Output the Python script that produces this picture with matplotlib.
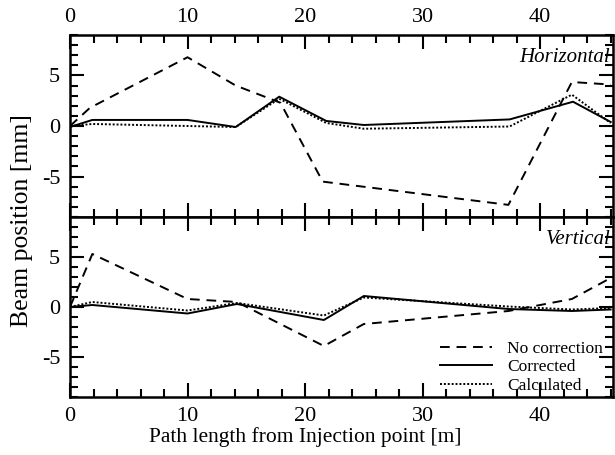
import matplotlib
matplotlib.use("Agg")
import matplotlib.pyplot as plt
from matplotlib.ticker import MultipleLocator

plt.rcParams['font.family'] = ['Liberation Serif', 'DejaVu Serif']
plt.rcParams['axes.unicode_minus'] = False

# Horizontal plane
h_nocorr_x = [0, 1.7, 10, 14.1, 17.9, 21.5, 37.3, 42.7, 46]
h_nocorr_y = [0, 1.8, 6.8, 4.0, 2.3, -5.5, -7.8, 4.35, 4.1]
h_corr_x = [0, 1.9, 10, 14.1, 17.8, 21.8, 25.0, 37.4, 42.8, 46]
h_corr_y = [-0.1, 0.6, 0.6, -0.1, 2.9, 0.5, 0.1, 0.65, 2.4, 0.4]
h_calc_x = [0, 1.9, 10, 14.1, 17.8, 21.8, 25.0, 37.4, 42.7, 46]
h_calc_y = [0, 0.2, 0.0, -0.1, 2.7, 0.3, -0.27, -0.05, 3.1, 0.3]

# Vertical plane
v_nocorr_x = [0, 1.9, 10, 14.2, 21.6, 25.0, 37.3, 42.7, 46]
v_nocorr_y = [0, 5.3, 0.8, 0.5, -3.9, -1.7, -0.4, 0.8, 2.9]
v_corr_x = [0, 1.9, 10, 14.2, 21.6, 25.0, 37.3, 42.7, 46]
v_corr_y = [0, 0.2, -0.65, 0.3, -1.3, 1.1, -0.2, -0.4, -0.25]
v_calc_x = [0, 1.9, 10, 14.2, 21.6, 25.0, 37.3, 42.7, 46]
v_calc_y = [0, 0.5, -0.35, 0.4, -0.85, 0.95, 0.05, -0.25, -0.1]

legend_labels = ["No correction", "Corrected", "Calculated"]

fig = plt.figure(figsize=(6.15, 4.55), dpi=100)
left, right = 70/615, 613/615
top, mid, bot = 1-35/455, 1-217/455, 1-397/455
ax1 = fig.add_axes([left, mid, right-left, top-mid])
ax2 = fig.add_axes([left, bot, right-left, mid-bot])

lw = 1.4
for ax, (nx, ny, cx, cy, kx, ky) in zip(
        [ax1, ax2],
        [(h_nocorr_x, h_nocorr_y, h_corr_x, h_corr_y, h_calc_x, h_calc_y),
         (v_nocorr_x, v_nocorr_y, v_corr_x, v_corr_y, v_calc_x, v_calc_y)]):
    ax.plot(nx, ny, color='black', lw=lw, linestyle=(0, (5, 3.5)), label=legend_labels[0])
    ax.plot(cx, cy, color='black', lw=lw, linestyle='-', label=legend_labels[1])
    ax.plot(kx, ky, color='black', lw=lw, linestyle=(0, (1, 1)), label=legend_labels[2])
    ax.set_xlim(0, 46.2)
    ax.set_ylim(-9, 9)
    ax.xaxis.set_major_locator(MultipleLocator(10))
    ax.xaxis.set_minor_locator(MultipleLocator(2))
    ax.yaxis.set_major_locator(MultipleLocator(5))
    ax.yaxis.set_minor_locator(MultipleLocator(1))
    ax.tick_params(which='both', direction='in', top=True, right=True, width=1.5, labelsize=16)
    ax.tick_params(which='major', length=10)
    ax.tick_params(which='minor', length=6)
    ax.tick_params(axis='y', which='major', pad=7)
    for s in ax.spines.values():
        s.set_linewidth(1.8)

ax1.tick_params(axis='x', which='both', labelbottom=False, labeltop=True)
ax1.tick_params(axis='x', which='major', pad=6)
ax2.tick_params(axis='x', which='major', pad=7)

ax1.text(0.995, 0.93, "Horizontal", transform=ax1.transAxes, ha='right', va='top',
         style='italic', fontsize=15)
ax2.text(0.995, 0.93, "Vertical", transform=ax2.transAxes, ha='right', va='top',
         style='italic', fontsize=15)

fig.text(305/615, 1-437/455, "Path length from Injection point [m]", ha='center', va='center',
         fontsize=15.5)
fig.text(0.036, 1-221/455, "Beam position [mm]", rotation=90, ha='center', va='center', fontsize=18.5)

leg = ax2.legend(loc='lower right', frameon=False, fontsize=12.5, handlelength=3.0,
                 labelspacing=0.12, borderaxespad=0.0, handletextpad=0.9,
                 bbox_to_anchor=(0.995, -0.02))

fig.savefig("out.png", dpi=100)
